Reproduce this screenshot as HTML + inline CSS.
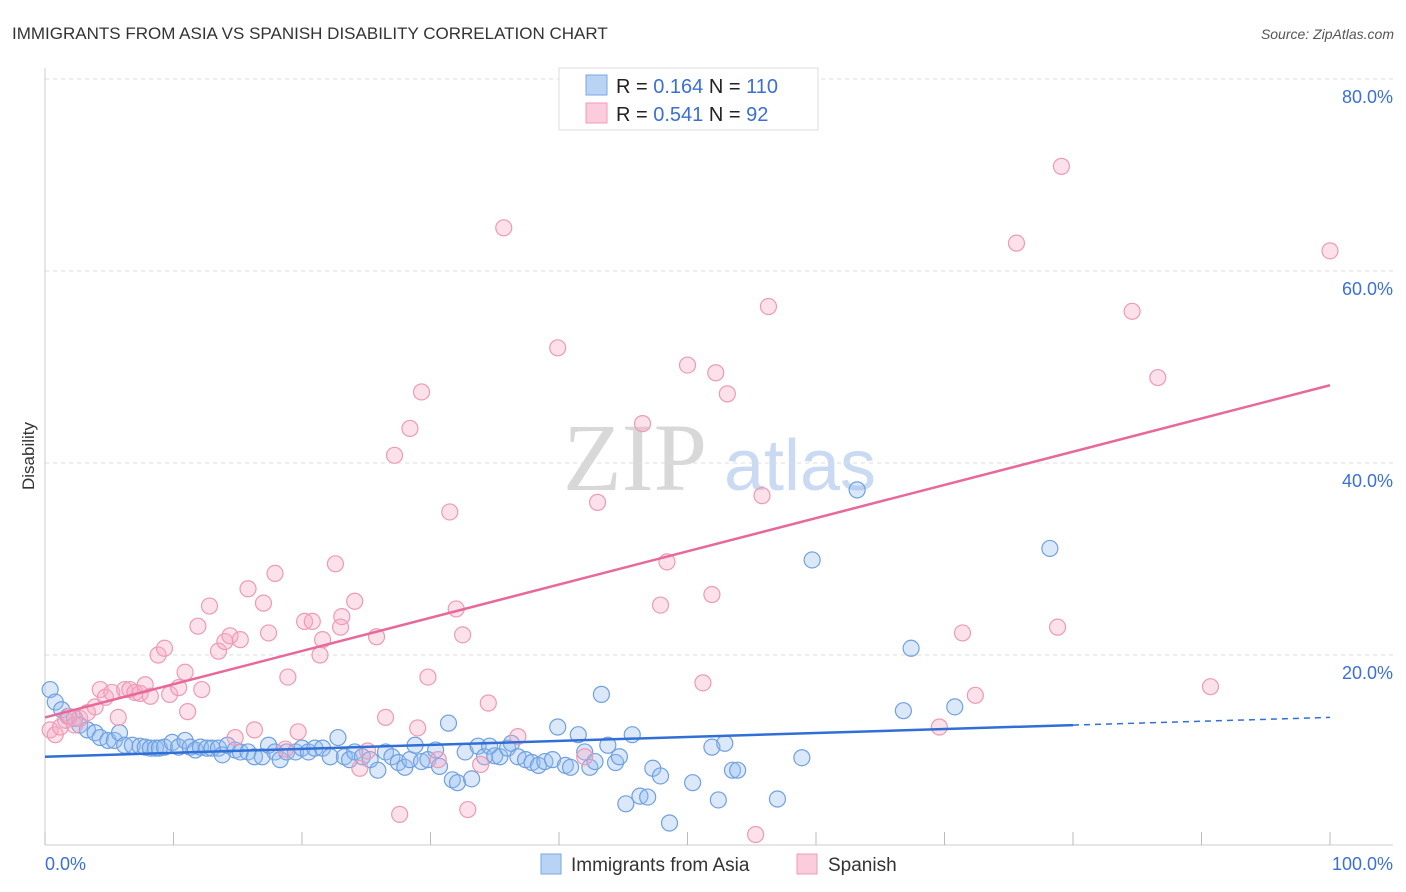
<!DOCTYPE html>
<html><head><meta charset="utf-8"><style>
body{margin:0;background:#fff;font-family:"Liberation Sans",sans-serif;}
svg{display:block}
</style></head><body>
<svg id="c" width="1406" height="892" viewBox="0 0 1406 892">
<text x="12" y="39" font-size="17" fill="#333">IMMIGRANTS FROM ASIA VS SPANISH DISABILITY CORRELATION CHART</text>
<text x="1394" y="39" font-size="14" fill="#555" font-style="italic" text-anchor="end">Source: ZipAtlas.com</text>
<text x="635" y="490" font-size="96" fill="#d8d8d8" font-family="Liberation Serif,serif" text-anchor="middle">ZIP</text>
<text x="800" y="490" font-size="72" fill="#c9daf2" text-anchor="middle">atlas</text>
<text x="34" y="456" font-size="17" fill="#333" text-anchor="middle" transform="rotate(-90 34 456)">Disability</text>
<g id="grid"></g><g id="pts"></g><g id="lines"></g>
<g>
<rect x="559" y="68" width="259" height="62" fill="#fff" stroke="#ddd"/>
<rect x="586" y="75" width="21" height="20" fill="#b9d3f5" stroke="#7aa6e6"/>
<rect x="586" y="103" width="21" height="20" fill="#fbccdb" stroke="#f09ab8"/>
<text x="616" y="93" font-size="20" fill="#222">R = <tspan fill="#3a6fd8">0.164</tspan>   N = <tspan fill="#3a6fd8">110</tspan></text>
<text x="616" y="121" font-size="20" fill="#222">R = <tspan fill="#3a6fd8">0.541</tspan>   N = <tspan fill="#3a6fd8"> 92</tspan></text>
</g>
<g>
<rect x="541" y="854" width="20" height="20" fill="#b9d3f5" stroke="#7aa6e6"/>
<text x="571" y="871" font-size="19" fill="#333">Immigrants from Asia</text>
<rect x="797" y="854" width="20" height="20" fill="#fbccdb" stroke="#f09ab8"/>
<text x="828" y="871" font-size="19" fill="#333">Spanish</text>
</g>
<text x="45" y="870" font-size="18" fill="#3a6fd8">0.0%</text>
<text x="1393" y="870" font-size="18" fill="#3a6fd8" text-anchor="end">100.0%</text>
</svg>
<script>
const blueX=[0.4,0.8,1.3,1.8,2.3,2.7,3.3,3.9,4.3,4.9,5.4,5.8,6.2,6.8,7.4,7.8,8.2,8.6,8.9,9.3,9.9,10.4,10.9,11.3,11.7,12.1,12.6,13.0,13.5,13.8,14.2,14.8,15.2,15.8,16.3,16.9,17.4,17.9,18.3,18.8,19.5,20.0,20.5,21.0,21.6,22.2,22.8,23.3,23.7,24.1,24.7,25.3,25.9,26.5,27.0,27.5,28.0,28.4,28.8,29.3,29.8,30.4,30.7,31.4,31.7,32.1,32.7,33.2,33.7,34.2,34.6,35.0,35.4,36.0,36.3,36.8,37.4,37.9,38.4,38.9,39.5,39.9,40.5,40.9,41.5,42.0,42.4,42.8,43.3,43.8,44.4,44.7,45.2,45.7,46.3,46.9,47.3,47.9,48.6,50.4,51.9,52.4,52.9,53.5,53.9,57.0,58.9,59.7,63.2,66.8,67.4,70.8,78.2];
const blueY=[16.4,15.1,14.3,13.6,13.4,12.7,12.2,11.9,11.4,11.1,11.1,11.9,10.6,10.6,10.5,10.4,10.3,10.3,10.3,10.4,10.9,10.4,11.1,10.4,10.1,10.4,10.3,10.3,10.3,9.6,10.6,10.1,9.9,9.9,9.4,9.4,10.6,9.9,9.1,9.9,9.9,10.3,9.9,10.3,10.3,9.4,11.4,9.4,9.1,9.9,9.4,9.1,8.0,9.9,9.4,8.8,8.3,9.1,10.6,8.9,9.1,10.1,8.4,12.9,7.0,6.7,9.9,7.1,10.5,9.4,10.5,9.5,9.4,10.3,10.8,9.4,9.1,8.8,8.5,8.9,9.1,12.5,8.5,8.3,11.7,9.9,8.3,8.9,15.9,10.6,8.8,9.4,4.5,11.7,5.3,5.2,8.2,7.4,2.5,6.7,10.4,4.9,10.8,8.0,8.0,5.0,9.3,29.9,37.2,14.2,20.7,14.6,31.1];
const pinkX=[0.4,0.8,1.2,1.6,1.9,2.3,2.7,3.3,3.9,4.3,4.7,5.2,5.7,6.2,6.6,7.0,7.4,7.8,8.2,8.8,9.3,9.7,10.4,10.9,11.1,11.9,12.2,12.8,13.5,14.0,14.4,14.8,15.2,15.8,16.3,17.0,17.4,17.9,18.7,18.9,19.7,20.2,20.8,21.4,21.6,22.6,23.0,23.1,24.1,24.5,25.1,25.8,26.5,27.2,27.6,28.4,29.0,29.3,29.8,30.6,31.5,32.0,32.5,32.9,33.9,34.5,35.7,36.8,39.9,42.0,43.0,46.5,47.9,48.4,50.0,51.2,51.9,52.2,53.1,55.3,55.8,56.3,71.4,72.4,75.6,78.8,79.1,84.6,86.6,90.7,100,69.6];
const pinkY=[12.2,11.7,12.5,13.2,13.6,12.7,13.4,14.0,14.6,16.4,15.6,16.1,13.5,16.4,16.4,16.1,16.0,16.9,15.7,20.0,20.7,15.9,16.6,18.2,14.1,23.0,16.4,25.1,20.4,21.4,22.0,11.4,21.6,26.9,12.2,25.4,22.3,28.5,10.2,17.7,12.0,23.5,23.5,20.0,21.6,29.5,22.9,24.0,25.6,8.2,10.0,21.9,13.5,40.8,3.4,43.6,12.4,47.4,17.7,9.1,34.9,24.8,22.1,3.9,8.6,15.0,64.5,11.5,52.0,9.4,35.9,44.1,25.2,29.7,50.2,17.1,26.3,49.4,47.2,1.3,36.6,56.3,22.3,15.8,62.9,22.9,70.9,55.8,48.9,16.7,62.1,12.5];
const yTicks=[20,40,60,80];
const yTickLabels=["20.0%","40.0%","60.0%","80.0%"];
const xTicks=[0,10,20,30,40,50,60,70,80,90,100];
const blueTrend=[9.4,12.7,13.5], blueTrendX=[0,80,100];
const pinkTrend=[13.5,48.1], pinkTrendX=[0,100];
const NS='http://www.w3.org/2000/svg';
const sx=v=>45+v*12.85, sy=v=>847-v*9.6;
function mk(tag,attrs,parent){const e=document.createElementNS(NS,tag);for(const k in attrs)e.setAttribute(k,attrs[k]);parent.appendChild(e);return e;}
const grid=document.getElementById('grid'),pts=document.getElementById('pts'),lines=document.getElementById('lines');
yTicks.forEach((t,i)=>{
 const l=mk('line',{x1:45,x2:1393,y1:sy(t),y2:sy(t),stroke:'#ddd','stroke-dasharray':'4,4'},grid);
 
 
 const tx=mk('text',{x:1393,y:sy(t)+24,'font-size':18,fill:'#3a6fd8','text-anchor':'end'},grid);
 tx.textContent=yTickLabels[i];
 
 
});
const ax=mk('line',{x1:45,x2:1393,y1:845,y2:845,stroke:'#ccc'},grid);


const ay=mk('line',{x1:45,x2:45,y1:68,y2:845,stroke:'#ccc'},grid);


xTicks.forEach(t=>{
 const l=mk('line',{x1:sx(t),x2:sx(t),y1:832,y2:845,stroke:'#bbb'},grid);
 
 
});
blueX.forEach((x,i)=>{
 const c=mk('circle',{cx:sx(x),cy:sy(blueY[i]),r:8,fill:'rgba(150,190,240,0.35)',stroke:'#6fa0e0','stroke-width':1.2},pts);
 
 
});
pinkX.forEach((x,i)=>{
 const c=mk('circle',{cx:sx(x),cy:sy(pinkY[i]),r:8,fill:'rgba(245,170,195,0.35)',stroke:'#ee9ab5','stroke-width':1.2},pts);
 
 
});
const b1=mk('line',{x1:sx(blueTrendX[0]),y1:sy(blueTrend[0]),x2:sx(blueTrendX[1]),y2:sy(blueTrend[1]),stroke:'#2f6fd6','stroke-width':2.5},lines);


const b2=mk('line',{x1:sx(blueTrendX[1]),y1:sy(blueTrend[1]),x2:sx(blueTrendX[2]),y2:sy(blueTrend[2]),stroke:'#2f6fd6','stroke-width':1.5,'stroke-dasharray':'6,5'},lines);


const p1=mk('line',{x1:sx(pinkTrendX[0]),y1:sy(pinkTrend[0]),x2:sx(pinkTrendX[1]),y2:sy(pinkTrend[1]),stroke:'#e8689a','stroke-width':2.5},lines);


</script>
</body></html>
